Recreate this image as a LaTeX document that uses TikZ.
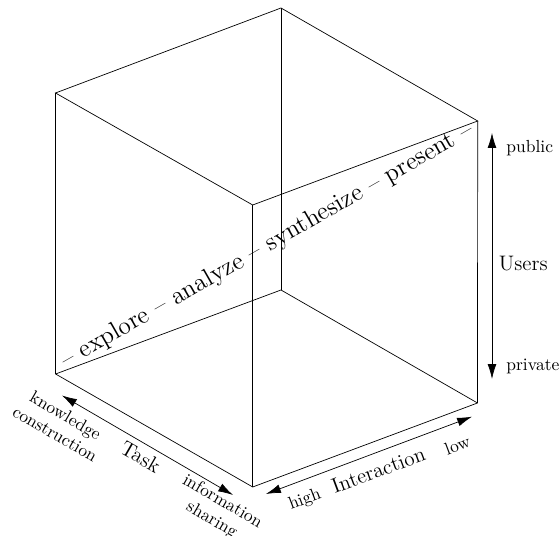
\documentclass[tikz,border=0pt]{standalone}
\usetikzlibrary{arrows.meta}
\begin{document}
\begin{tikzpicture}[x=0.5714pt,y=-0.5714pt,
  edge/.style={line width=0.4pt,black},
  axis/.style={line width=0.4pt,{Latex[length=8.5pt,width=5pt]}-{Latex[length=8.5pt,width=5pt]}},
  lbl/.style={inner sep=0pt,font=\normalsize},
  axlbl/.style={inner sep=0pt,font=\large}]
\useasboundingbox (0,0) rectangle (560,536);
% cube corners
\coordinate (A) at (55.5,93);
\coordinate (B) at (281,8);
\coordinate (C) at (477.7,121);
\coordinate (D) at (252.7,205);
\coordinate (E) at (55.6,374);
\coordinate (F) at (281,290);
\coordinate (G) at (477.5,403);
\coordinate (H) at (252.7,487);
% edges
\draw[edge] (A) -- (B) -- (C) -- (D) -- cycle;
\draw[edge] (E) -- (F) -- (G);
\draw[edge] (E) -- (H) -- (G);
\draw[edge] (A) -- (E);
\draw[edge] (B) -- (F);
\draw[edge] (C) -- (G);
\draw[edge] (D) -- (H);
% diagonal text
\node[inner sep=0pt,font=\Large,rotate=29.8] (phases) at (267.5,246)
  {-- explore -- analyze -- synthesize -- present --};
% Users axis
\coordinate (u1) at (492,133);
\coordinate (u2) at (492,379);
\draw[axis] (u1) -- (u2);
\node[lbl,anchor=west] (public) at (506,148.3) {public};
\node[lbl,anchor=west] (private) at (506,366.5) {private};
\node[axlbl] (users) at (523.3,263.3) {Users};
% Task axis
\coordinate (t1) at (62,395.5);
\coordinate (t2) at (233,495);
\draw[axis] (t1) -- (t2);
\node[lbl,rotate=-30,align=center] (know) at (60.5,424.5) {knowledge\\construction};
\node[axlbl,rotate=-30] (task) at (140.7,456.7) {Task};
\node[lbl,rotate=-30,align=center] (info) at (217,511) {information\\sharing};
% Interaction axis
\coordinate (i1) at (266,494);
\coordinate (i2) at (472,416.7);
\draw[axis] (i1) -- (i2);
\node[axlbl,rotate=20.5] (inter) at (378.3,470) {Interaction};
\node[lbl,rotate=20.5] (low) at (457.3,445) {low};
\node[lbl,rotate=20.5] (high) at (305,500) {high};
\end{tikzpicture}
\end{document}
